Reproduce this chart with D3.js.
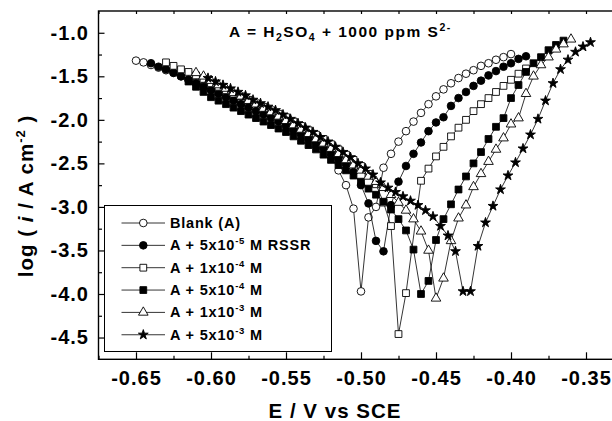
<!DOCTYPE html>
<html lang="en">
  <head>
    <meta charset="utf-8" />
    <title>Tafel plots</title>
    <script src="https://cdnjs.cloudflare.com/ajax/libs/d3/7.8.5/d3.min.js"></script>
    <style>
      body {
        margin: 0;
        background: #fff;
      }
      svg text {
        font-family: "Liberation Sans", Arial, sans-serif;
        font-weight: bold;
        fill: #000;
      }
      .tick text {
        font-size: 20px;
        letter-spacing: 1px;
      }
    </style>
  </head>
  <body>
    <div id="chart"></div>
    <script>
      // E (V vs SCE), log i pairs for each curve
      const blank = [
        [-0.65, -1.32], [-0.645, -1.34], [-0.64, -1.37], [-0.635, -1.4], [-0.63, -1.43],
        [-0.625, -1.46], [-0.62, -1.5], [-0.615, -1.54], [-0.61, -1.57], [-0.605, -1.61],
        [-0.6, -1.65], [-0.595, -1.69], [-0.59, -1.72], [-0.585, -1.76], [-0.58, -1.8],
        [-0.575, -1.84], [-0.57, -1.87], [-0.565, -1.91], [-0.56, -1.95], [-0.555, -1.99],
        [-0.55, -2.04], [-0.545, -2.09], [-0.54, -2.14], [-0.535, -2.19], [-0.53, -2.25],
        [-0.525, -2.31], [-0.52, -2.42], [-0.515, -2.58], [-0.51, -2.75], [-0.505, -3.02],
        [-0.5, -3.97], [-0.495, -3.12], [-0.49, -3.0], [-0.485, -2.55], [-0.48, -2.39],
        [-0.475, -2.25], [-0.47, -2.13], [-0.465, -2.02], [-0.46, -1.92], [-0.455, -1.82],
        [-0.45, -1.73], [-0.445, -1.65], [-0.44, -1.58], [-0.435, -1.52], [-0.43, -1.47],
        [-0.425, -1.43], [-0.42, -1.38], [-0.415, -1.35], [-0.41, -1.31], [-0.405, -1.28],
        [-0.4, -1.245]
      ];
      const rssr5e5 = [
        [-0.64, -1.35], [-0.635, -1.39], [-0.63, -1.42], [-0.625, -1.46], [-0.62, -1.5],
        [-0.615, -1.54], [-0.61, -1.58], [-0.605, -1.62], [-0.6, -1.66], [-0.595, -1.7],
        [-0.59, -1.74], [-0.585, -1.78], [-0.58, -1.82], [-0.575, -1.86], [-0.57, -1.9],
        [-0.565, -1.94], [-0.56, -1.98], [-0.555, -2.02], [-0.55, -2.07], [-0.545, -2.12],
        [-0.54, -2.17], [-0.535, -2.22], [-0.53, -2.28], [-0.525, -2.33], [-0.52, -2.39],
        [-0.515, -2.45], [-0.51, -2.51], [-0.505, -2.6], [-0.5, -2.75], [-0.495, -2.96],
        [-0.49, -3.39], [-0.485, -3.51], [-0.48, -2.98], [-0.475, -2.71], [-0.47, -2.53],
        [-0.465, -2.39], [-0.46, -2.26], [-0.455, -2.13], [-0.45, -2.03], [-0.445, -1.97],
        [-0.44, -1.84], [-0.435, -1.75], [-0.43, -1.68], [-0.425, -1.61], [-0.42, -1.55],
        [-0.415, -1.49], [-0.41, -1.44], [-0.405, -1.39], [-0.4, -1.35], [-0.395, -1.3],
        [-0.39, -1.27]
      ];
      const rssr1e4 = [
        [-0.63, -1.34], [-0.625, -1.38], [-0.62, -1.42], [-0.615, -1.45], [-0.61, -1.49],
        [-0.605, -1.53], [-0.6, -1.58], [-0.595, -1.62], [-0.59, -1.66], [-0.585, -1.7],
        [-0.58, -1.73], [-0.575, -1.77], [-0.57, -1.81], [-0.565, -1.85], [-0.56, -1.89],
        [-0.555, -1.93], [-0.55, -1.97], [-0.545, -2.02], [-0.54, -2.07], [-0.535, -2.12],
        [-0.53, -2.17], [-0.525, -2.22], [-0.52, -2.28], [-0.515, -2.34], [-0.51, -2.4],
        [-0.505, -2.46], [-0.5, -2.53], [-0.495, -2.62], [-0.49, -2.74], [-0.485, -2.95],
        [-0.48, -3.22], [-0.475, -4.46], [-0.47, -3.99], [-0.46, -2.7], [-0.455, -2.56],
        [-0.45, -2.42], [-0.445, -2.31], [-0.44, -2.19], [-0.435, -2.09], [-0.43, -2.0],
        [-0.425, -1.9], [-0.42, -1.82], [-0.415, -1.75], [-0.41, -1.68], [-0.405, -1.61],
        [-0.4, -1.54], [-0.395, -1.47], [-0.39, -1.41]
      ];
      const rssr5e4 = [
        [-0.615, -1.56], [-0.61, -1.62], [-0.605, -1.68], [-0.6, -1.74], [-0.595, -1.78],
        [-0.59, -1.82], [-0.585, -1.86], [-0.58, -1.9], [-0.575, -1.94], [-0.57, -1.98],
        [-0.565, -2.02], [-0.56, -2.06], [-0.555, -2.1], [-0.55, -2.14], [-0.545, -2.19],
        [-0.54, -2.24], [-0.535, -2.29], [-0.53, -2.34], [-0.525, -2.4], [-0.52, -2.46],
        [-0.515, -2.52], [-0.51, -2.58], [-0.505, -2.64], [-0.5, -2.71], [-0.495, -2.79],
        [-0.49, -2.86], [-0.485, -2.94], [-0.48, -3.03], [-0.475, -3.14], [-0.47, -3.27],
        [-0.465, -3.49], [-0.46, -4.0], [-0.455, -3.85], [-0.45, -3.38], [-0.445, -3.14],
        [-0.44, -2.97], [-0.435, -2.8], [-0.43, -2.65], [-0.425, -2.5], [-0.42, -2.37],
        [-0.415, -2.22], [-0.41, -2.08], [-0.405, -1.98], [-0.4, -1.75], [-0.395, -1.6],
        [-0.39, -1.45], [-0.385, -1.35], [-0.38, -1.28], [-0.375, -1.2], [-0.37, -1.14],
        [-0.365, -1.09]
      ];
      const rssr1e3 = [
        [-0.61, -1.46], [-0.605, -1.5], [-0.6, -1.55], [-0.595, -1.6], [-0.59, -1.64],
        [-0.585, -1.69], [-0.58, -1.73], [-0.575, -1.78], [-0.57, -1.82], [-0.565, -1.87],
        [-0.56, -1.91], [-0.555, -1.96], [-0.55, -2.01], [-0.545, -2.06], [-0.54, -2.11],
        [-0.535, -2.16], [-0.53, -2.22], [-0.525, -2.27], [-0.52, -2.33], [-0.515, -2.39],
        [-0.51, -2.46], [-0.505, -2.52], [-0.5, -2.58], [-0.495, -2.65], [-0.49, -2.71],
        [-0.485, -2.78], [-0.48, -2.86], [-0.475, -2.95], [-0.47, -3.04], [-0.465, -3.14],
        [-0.46, -3.28], [-0.455, -3.5], [-0.45, -4.05], [-0.445, -3.82], [-0.44, -3.39],
        [-0.435, -3.13], [-0.43, -2.98], [-0.425, -2.77], [-0.42, -2.62], [-0.415, -2.48],
        [-0.41, -2.34], [-0.405, -2.21], [-0.4, -2.05], [-0.395, -1.98], [-0.39, -1.7],
        [-0.385, -1.5], [-0.38, -1.37], [-0.375, -1.28], [-0.37, -1.19], [-0.365, -1.13],
        [-0.36, -1.075]
      ];
      const rssr5e3 = [
        [-0.602, -1.52], [-0.597, -1.56], [-0.592, -1.6], [-0.587, -1.64], [-0.582, -1.68],
        [-0.577, -1.72], [-0.572, -1.77], [-0.567, -1.81], [-0.562, -1.85], [-0.557, -1.89],
        [-0.552, -1.94], [-0.547, -1.99], [-0.542, -2.04], [-0.537, -2.09], [-0.532, -2.14],
        [-0.527, -2.2], [-0.522, -2.25], [-0.517, -2.31], [-0.512, -2.37], [-0.507, -2.43],
        [-0.502, -2.5], [-0.497, -2.56], [-0.492, -2.63], [-0.487, -2.72], [-0.482, -2.78],
        [-0.477, -2.83], [-0.472, -2.88], [-0.467, -2.93], [-0.462, -2.98], [-0.457, -3.04],
        [-0.452, -3.11], [-0.447, -3.22], [-0.442, -3.33], [-0.437, -3.51], [-0.432, -3.97],
        [-0.427, -3.97], [-0.422, -3.45], [-0.417, -3.18], [-0.412, -2.99], [-0.407, -2.8],
        [-0.402, -2.64], [-0.397, -2.49], [-0.392, -2.33], [-0.387, -2.17], [-0.382, -1.99],
        [-0.377, -1.78], [-0.372, -1.58], [-0.367, -1.42], [-0.362, -1.31], [-0.357, -1.22],
        [-0.352, -1.16], [-0.347, -1.11]
      ];

      const seriesData = [blank, rssr5e5, rssr1e4, rssr5e4, rssr1e3, rssr5e3];
      const markerShapes = ["circle", "circle", "square", "square", "triangle", "star"];
      const markerFilled = [false, true, false, true, false, true];
      const legendMain = ["Blank (A)", "A + 5x10", "A + 1x10", "A + 5x10", "A + 1x10", "A + 5x10"];
      const legendExp = ["", "-5", "-4", "-4", "-3", "-3"];
      const legendTail = ["", " M RSSR", " M", " M", " M", " M"];

      const xTicks = [-0.65, -0.6, -0.55, -0.5, -0.45, -0.4, -0.35];
      const xMinor = [-0.675, -0.625, -0.575, -0.525, -0.475, -0.425, -0.375, -0.325];
      const yTicks = [-1.0, -1.5, -2.0, -2.5, -3.0, -3.5, -4.0, -4.5];
      const yMinor = [-1.25, -1.75, -2.25, -2.75, -3.25, -3.75, -4.25];

      const width = 612;
      const height = 421;
      const plotL = 98.5, plotR = 623.5, plotT = 11, plotB = 359.3;

      const svg = d3
        .select("#chart")
        .append("svg")
        .attr("width", width)
        .attr("height", height)
        .style("display", "block");

      svg.append("rect").attr("width", width).attr("height", height).attr("fill", "#fff");

      const x = d3.scaleLinear().domain([-0.675, -0.325]).range([plotL, plotR]);
      const y = d3.scaleLinear().domain([-4.75, -0.75]).range([plotB, plotT]);

      svg
        .append("clipPath")
        .attr("id", "plotClip")
        .append("rect")
        .attr("x", plotL)
        .attr("y", plotT)
        .attr("width", plotR - plotL)
        .attr("height", plotB - plotT);

      // axes: ticks point into the plot
      svg
        .append("g")
        .attr("transform", `translate(0,${plotB})`)
        .call(
          d3.axisBottom(x).tickValues(xTicks).tickSize(-7).tickPadding(11.5)
            .tickFormat((d) => d.toFixed(2))
        );
      svg
        .append("g")
        .attr("transform", `translate(0,${plotB})`)
        .call(d3.axisBottom(x).tickValues(xMinor).tickSize(-3.5).tickFormat(""));
      svg
        .append("g")
        .attr("transform", `translate(0,${plotT})`)
        .call(d3.axisTop(x).tickValues(xTicks.concat(xMinor)).tickSize(-3).tickFormat(""));

      svg
        .append("g")
        .attr("transform", `translate(${plotL},0)`)
        .call(
          d3.axisLeft(y).tickValues(yTicks).tickSize(-6).tickPadding(9.5)
            .tickFormat((d) => d.toFixed(1))
        );
      svg
        .append("g")
        .attr("transform", `translate(${plotL},0)`)
        .call(d3.axisLeft(y).tickValues(yMinor).tickSize(-3.5).tickFormat(""));

      svg.selectAll(".domain").remove();
      svg.selectAll(".tick line").attr("stroke", "#000").attr("stroke-width", 1.2);
      svg.selectAll(".tick text").attr("fill", "#000");

      svg
        .append("rect")
        .attr("x", plotL)
        .attr("y", plotT)
        .attr("width", plotR - plotL)
        .attr("height", plotB - plotT)
        .attr("fill", "none")
        .attr("stroke", "#000")
        .attr("stroke-width", 1.4);

      // marker shapes
      const symbolType = {
        circle: d3.symbolCircle,
        square: d3.symbolSquare,
        triangle: d3.symbolTriangle,
        star: d3.symbolStar,
      };
      const symbolSize = { circle: 46, square: 46, triangle: 40, star: 30 };

      function drawMarker(g, shape, filled, cx, cy) {
        g.append("path")
          .attr("d", d3.symbol(symbolType[shape], symbolSize[shape])())
          .attr("transform", `translate(${cx},${cy})`)
          .attr("fill", filled ? "#000" : "#fff")
          .attr("stroke", "#000")
          .attr("stroke-width", 0.9);
      }

      const plot = svg.append("g").attr("clip-path", "url(#plotClip)");
      const line = d3
        .line()
        .x((d) => x(d[0]))
        .y((d) => y(d[1]));

      seriesData.forEach((data, i) => {
        const g = plot.append("g");
        g.append("path")
          .datum(data)
          .attr("d", line)
          .attr("fill", "none")
          .attr("stroke", "#000")
          .attr("stroke-width", 0.8);
        data.forEach((d) => drawMarker(g, markerShapes[i], markerFilled[i], x(d[0]), y(d[1])));
      });

      // legend
      const legend = svg.append("g");
      legend
        .append("rect")
        .attr("x", 104.5)
        .attr("y", 205.5)
        .attr("width", 227)
        .attr("height", 146)
        .attr("fill", "#fff")
        .attr("stroke", "#000")
        .attr("stroke-width", 1);

      legendMain.forEach((label, i) => {
        const cy = 223 + i * 22.35;
        legend
          .append("line")
          .attr("x1", 121.5)
          .attr("x2", 165)
          .attr("y1", cy)
          .attr("y2", cy)
          .attr("stroke", "#000")
          .attr("stroke-width", 0.8);
        drawMarker(legend, markerShapes[i], markerFilled[i], 143.3, cy);
        const t = legend
          .append("text")
          .attr("x", 170)
          .attr("y", cy + 5)
          .attr("font-size", 14.5)
          .attr("letter-spacing", 0.8)
          .text(label);
        if (legendExp[i]) {
          t.append("tspan").attr("dy", -6).attr("font-size", 9.5).text(legendExp[i]);
          t.append("tspan").attr("dy", 6).text(legendTail[i]);
        }
      });

      // annotation
      const note = svg
        .append("text")
        .attr("x", 229)
        .attr("y", 36.7)
        .attr("font-size", 15.5)
        .attr("letter-spacing", 1.5)
        .text("A = H");
      note.append("tspan").attr("dy", 4).attr("font-size", 10.5).text("2");
      note.append("tspan").attr("dy", -4).text("SO");
      note.append("tspan").attr("dy", 4).attr("font-size", 10.5).text("4");
      note.append("tspan").attr("dy", -4).text(" + 1000 ppm S");
      note.append("tspan").attr("dy", -6).attr("font-size", 10.5).text("2-");

      // axis titles
      svg
        .append("text")
        .attr("x", 335)
        .attr("y", 418)
        .attr("text-anchor", "middle")
        .attr("font-size", 20.5)
        .attr("letter-spacing", 1)
        .text("E / V vs SCE");

      const yTitle = svg
        .append("text")
        .attr("transform", "translate(33,196) rotate(-90)")
        .attr("text-anchor", "middle")
        .attr("font-size", 20.5)
        .attr("letter-spacing", 1)
        .text("log ( ");
      yTitle.append("tspan").attr("font-style", "italic").text("i");
      yTitle.append("tspan").text(" / A cm");
      yTitle.append("tspan").attr("dy", -8).attr("font-size", 13).text("-2");
      yTitle.append("tspan").attr("dy", 8).text(" )");
    </script>
  </body>
</html>
